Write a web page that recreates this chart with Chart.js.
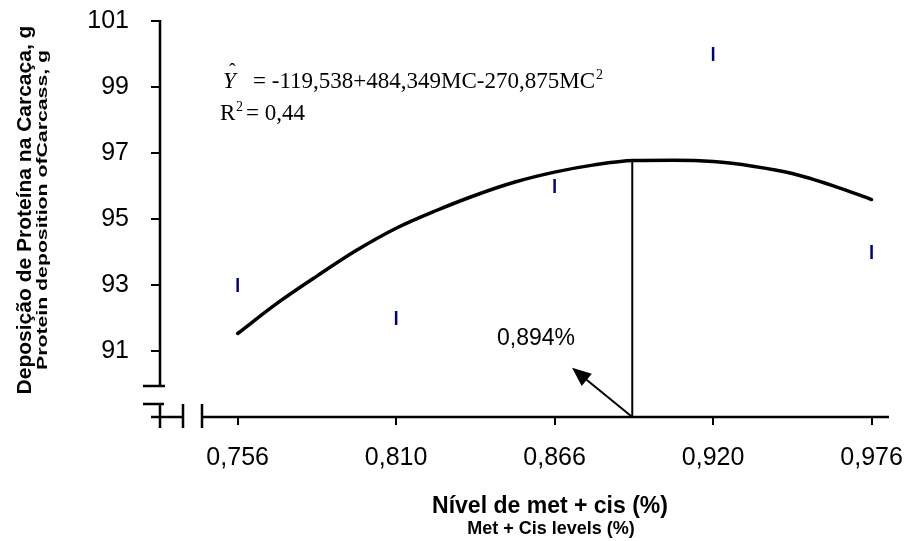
<!DOCTYPE html>
<html>
<head>
<meta charset="utf-8">
<script src="https://cdn.jsdelivr.net/npm/chart.js@4.4.1/dist/chart.umd.min.js"></script>
<style>
  html, body { margin: 0; padding: 0; background: #fff; }
  #wrap { width: 914px; height: 541px; }
</style>
</head>
<body>
<div id="wrap"><canvas id="chart" width="914" height="541"></canvas></div>
<script>
// Met + Cis levels (%) — categories, evenly spaced on the axis
const levels = ['0,756', '0,810', '0,866', '0,920', '0,976'];
const levelPos = [0, 1, 2, 3, 4];

// observed protein deposition (g)
const observed = [93, 92, 96, 100, 94];

// fitted curve (x in category positions)
const curveX = [0, 0.25, 0.5, 0.75, 1.0, 1.25, 1.5, 1.75, 2.0, 2.25, 2.5, 2.75, 3.0, 3.25, 3.5, 3.75, 4.0];
const curveY = [91.53, 92.45, 93.27, 94.05, 94.72, 95.25, 95.72, 96.12, 96.42, 96.64, 96.77, 96.78, 96.74, 96.60, 96.38, 96.02, 95.59];

// optimum (0,894%) marker
const optX = 2.49;
const optTop = 96.77;

const yTicks = [91, 93, 95, 97, 99, 101];
const yMin = 89, yMax = 101;

function noPad(s) {
  s.paddingLeft = 0; s.paddingRight = 0; s.paddingTop = 0; s.paddingBottom = 0;
}

const overlay = {
  id: 'overlay',
  afterDraw(chart) {
    const { ctx } = chart;
    const xs = chart.scales.x, ys = chart.scales.y;
    const L = xs.left, R = xs.right, B = ys.bottom, T = ys.top;

    ctx.save();
    ctx.strokeStyle = '#000';
    ctx.lineWidth = 2.5;
    ctx.lineCap = 'butt';
    ctx.beginPath();
    // y axis with break
    ctx.moveTo(L, T - 1); ctx.lineTo(L, B - 31);
    ctx.moveTo(L - 17, B - 31); ctx.lineTo(L + 5, B - 31);
    ctx.moveTo(L - 17, B - 13); ctx.lineTo(L + 4, B - 13);
    ctx.moveTo(L, B - 13); ctx.lineTo(L, B + 11);
    // x axis with break
    ctx.moveTo(L - 9, B); ctx.lineTo(L + 23, B);
    ctx.moveTo(L + 23, B - 13); ctx.lineTo(L + 23, B + 11);
    ctx.moveTo(L + 42, B - 13); ctx.lineTo(L + 42, B + 11);
    ctx.moveTo(L + 42, B); ctx.lineTo(R, B);
    ctx.stroke();

    // arrow pointing at the optimum foot
    const fx = xs.getPixelForValue(optX), fy = ys.getPixelForValue(yMin);
    const tx = xs.getPixelForValue(2.11), ty = ys.getPixelForValue(90.49);
    const ang = Math.atan2(ty - fy, tx - fx);
    ctx.lineWidth = 2;
    ctx.beginPath();
    ctx.moveTo(fx, fy);
    ctx.lineTo(tx - 12 * Math.cos(ang), ty - 12 * Math.sin(ang));
    ctx.stroke();
    ctx.fillStyle = '#000';
    ctx.beginPath();
    ctx.moveTo(tx, ty);
    ctx.lineTo(tx - 19 * Math.cos(ang) + 8 * Math.sin(ang), ty - 19 * Math.sin(ang) - 8 * Math.cos(ang));
    ctx.lineTo(tx - 19 * Math.cos(ang) - 8 * Math.sin(ang), ty - 19 * Math.sin(ang) + 8 * Math.cos(ang));
    ctx.closePath();
    ctx.fill();

    ctx.font = '23px "Liberation Sans", Arial, sans-serif';
    ctx.textAlign = 'left';
    ctx.textBaseline = 'alphabetic';
    ctx.fillText('0,894%', tx - 75, ty - 23);

    // regression equation
    ctx.font = 'italic 23px "Liberation Serif", "Times New Roman", serif';
    ctx.fillText('Y', L + 63, T + 67);
    ctx.font = '20px "Liberation Serif", serif';
    ctx.fillText('\u02C6', L + 69, T + 57);
    ctx.font = '23px "Liberation Serif", "Times New Roman", serif';
    const eq = '= -119,538+484,349MC-270,875MC';
    ctx.fillText(eq, L + 93, T + 67);
    const eqW = ctx.measureText(eq).width;
    ctx.font = '14px "Liberation Serif", serif';
    ctx.fillText('2', L + 93 + eqW + 1, T + 58);
    ctx.font = '23px "Liberation Serif", "Times New Roman", serif';
    ctx.fillText('R', L + 60, T + 99);
    ctx.font = '14px "Liberation Serif", serif';
    ctx.fillText('2', L + 76, T + 90);
    ctx.font = '23px "Liberation Serif", "Times New Roman", serif';
    ctx.fillText('= 0,44', L + 86, T + 99);

    // axis titles
    ctx.textAlign = 'center';
    ctx.font = 'bold 23px "Liberation Sans", Arial, sans-serif';
    ctx.fillText('Nível de met + cis (%)', 550, 513);
    ctx.font = 'bold 18px "Liberation Sans", Arial, sans-serif';
    ctx.fillText('Met + Cis levels (%)', 551, 534);

    ctx.save();
    ctx.translate(31, 210);
    ctx.rotate(-Math.PI / 2);
    ctx.font = 'bold 21px "Liberation Sans", Arial, sans-serif';
    ctx.fillText('Deposição de Proteína na Carcaça, g', 0, 0);
    ctx.restore();

    ctx.save();
    ctx.translate(47, 210);
    ctx.rotate(-Math.PI / 2);
    ctx.font = 'bold 14px "Liberation Sans", Arial, sans-serif';
    const sub = 'Protein deposition ofCarcass, g';
    const k = 320 / ctx.measureText(sub).width;
    ctx.scale(k, 1);
    ctx.fillText(sub, 0, 0);
    ctx.restore();

    ctx.restore();
  }
};

new Chart(document.getElementById('chart'), {
  type: 'scatter',
  data: {
    datasets: [
      {
        type: 'line',
        data: [{ x: optX, y: yMin }, { x: optX, y: optTop }],
        borderColor: '#000',
        borderWidth: 2,
        pointRadius: 0,
      },
      {
        type: 'line',
        data: curveX.map((v, i) => ({ x: v, y: curveY[i] })),
        borderColor: '#000',
        borderWidth: 3.5,
        borderCapStyle: 'round',
        borderJoinStyle: 'round',
        pointRadius: 0,
        cubicInterpolationMode: 'monotone',
      },
      {
        data: levelPos.map((v, i) => ({ x: v, y: observed[i] })),
        pointStyle: 'line',
        rotation: 90,
        pointRadius: 7,
        borderWidth: 2.5,
        borderColor: '#000080',
        backgroundColor: '#000080',
      },
    ],
  },
  options: {
    responsive: false,
    animation: false,
    events: [],
    layout: { padding: { left: 0, right: 25, top: 21, bottom: 0 } },
    plugins: { legend: { display: false }, tooltip: { enabled: false } },
    scales: {
      x: {
        type: 'linear',
        min: -0.49,
        max: 4.11,
        afterFit: (s) => { s.height = 124; noPad(s); },
        afterBuildTicks: (s) => { s.ticks = levelPos.map(v => ({ value: v })); },
        border: { display: false },
        grid: { drawOnChartArea: false, drawTicks: true, tickLength: 8, color: '#000', lineWidth: 2 },
        ticks: {
          padding: 18,
          color: '#000',
          font: { family: '"Liberation Sans", Arial, sans-serif', size: 25 },
          maxRotation: 0,
          callback: (v) => levels[levelPos.indexOf(v)],
        },
      },
      y: {
        type: 'linear',
        min: yMin,
        max: yMax,
        afterFit: (s) => { s.width = 160; noPad(s); },
        afterBuildTicks: (s) => { s.ticks = yTicks.map(v => ({ value: v })); },
        border: { display: false },
        grid: { drawOnChartArea: false, drawTicks: true, tickLength: 9, color: '#000', lineWidth: 2 },
        ticks: {
          padding: 22,
          color: '#000',
          font: { family: '"Liberation Sans", Arial, sans-serif', size: 25 },
          callback: (v) => String(v),
        },
      },
    },
  },
  plugins: [overlay],
});
</script>
</body>
</html>
